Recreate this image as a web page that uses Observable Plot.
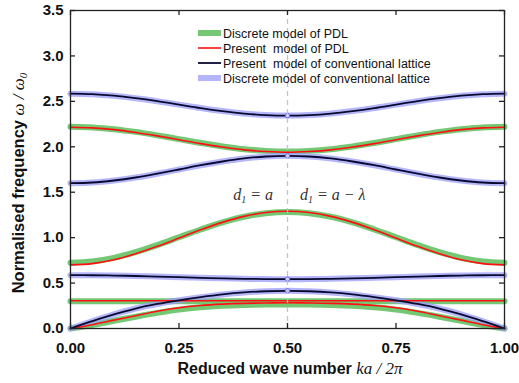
<!DOCTYPE html>
<html><head><meta charset="utf-8">
<script src="https://cdn.jsdelivr.net/npm/d3@7"></script>
<script src="https://cdn.jsdelivr.net/npm/@observablehq/plot@0.6"></script>
<style>
body{margin:0;background:#fff}
svg{font-family:"Liberation Sans",Arial,sans-serif}
</style>
</head><body><div id="chart"></div>
<script>
// Reduced wave number ka/2π
const k = [0,0.05,0.1,0.15,0.2,0.25,0.3,0.35,0.4,0.45,0.5,0.55,0.6,0.65,0.7,0.75,0.8,0.85,0.9,0.95,1];

// Present model of PDL (red)
const pdlPresent1 = [0,0.042,0.092,0.14,0.19,0.228,0.253,0.268,0.277,0.281,0.283,0.281,0.277,0.268,0.253,0.228,0.19,0.14,0.092,0.042,0];
const pdlPresent2 = [0.305,0.305,0.305,0.305,0.305,0.305,0.305,0.305,0.305,0.305,0.305,0.305,0.305,0.305,0.305,0.305,0.305,0.305,0.305,0.305,0.305];
const pdlPresent3 = [0.700,0.714,0.756,0.822,0.904,0.995,1.086,1.168,1.234,1.276,1.290,1.276,1.234,1.168,1.086,0.995,0.904,0.822,0.756,0.714,0.700];
const pdlPresent4 = [2.215,2.208,2.189,2.158,2.120,2.078,2.035,1.997,1.966,1.948,1.940,1.948,1.966,1.997,2.035,2.078,2.120,2.158,2.189,2.208,2.215];

// Discrete model of PDL (green)
const pdlDiscrete1 = [0,0.038,0.085,0.13,0.172,0.208,0.233,0.249,0.258,0.263,0.265,0.263,0.258,0.249,0.233,0.208,0.172,0.13,0.085,0.038,0];
const pdlDiscrete2 = [0.300,0.300,0.300,0.300,0.300,0.300,0.300,0.300,0.300,0.300,0.300,0.300,0.300,0.300,0.300,0.300,0.300,0.300,0.300,0.300,0.300];
const pdlDiscrete3 = [0.725,0.739,0.778,0.840,0.918,1.004,1.090,1.168,1.230,1.269,1.283,1.269,1.230,1.168,1.090,1.004,0.918,0.840,0.778,0.739,0.725];
const pdlDiscrete4 = [2.220,2.213,2.194,2.164,2.126,2.084,2.042,2.004,1.974,1.955,1.948,1.955,1.974,2.004,2.042,2.084,2.126,2.164,2.194,2.213,2.220];

// Present / discrete model of conventional lattice (black / blue)
const conv1 = [0,0.08,0.155,0.22,0.27,0.31,0.345,0.375,0.397,0.41,0.415,0.41,0.397,0.375,0.345,0.31,0.27,0.22,0.155,0.08,0];
const conv2 = [0.587,0.586,0.583,0.578,0.572,0.565,0.558,0.552,0.547,0.544,0.543,0.544,0.547,0.552,0.558,0.565,0.572,0.578,0.583,0.586,0.587];
const conv3 = [1.600,1.607,1.629,1.662,1.704,1.750,1.797,1.838,1.872,1.893,1.900,1.893,1.872,1.838,1.797,1.750,1.704,1.662,1.629,1.607,1.600];
const conv4 = [2.585,2.579,2.562,2.535,2.502,2.464,2.426,2.393,2.366,2.349,2.343,2.349,2.366,2.393,2.426,2.464,2.502,2.535,2.562,2.579,2.585];

// Discrete points at the zone centre
const dotK = [0.5,0.5,0.5,0.5];
const dotW = [0.415,0.543,1.900,2.343];

const xTicks = [0,0.25,0.5,0.75,1];
const yTicks = [0,0.5,1,1.5,2,2.5,3,3.5];

const legendLabels = ["Discrete model of PDL","Present  model of PDL","Present  model of conventional lattice","Discrete model of conventional lattice"];

const W=519,H=383,mL=70,mR=15,mT=10,mB=55,tickLen=5;
const innerW=W-mL-mR, innerH=H-mT-mB;
const green="#74c874", blue="#9c9cf8", red="#ff1010", dark="#0a0a30";

const rows = ys => k.map((x,i)=>({k:x,w:ys[i]}));
const thick = (ys,color,op) => Plot.line(rows(ys),{x:"k",y:"w",stroke:color,strokeWidth:6,strokeOpacity:op,curve:"catmull-rom"});
const thin = (ys,color,sw) => Plot.line(rows(ys),{x:"k",y:"w",stroke:color,strokeWidth:sw,curve:"catmull-rom"});

const plot = Plot.plot({
  width:W,height:H,marginLeft:mL,marginRight:mR,marginTop:mT,marginBottom:mB,
  x:{domain:[0,1]}, y:{domain:[0,3.5]},
  style:{fontFamily:'"Liberation Sans",Arial,sans-serif',fontSize:"15px",fontWeight:"bold",color:"#111",background:"#fff"},
  marks:[
    ...[pdlDiscrete1,pdlDiscrete2,pdlDiscrete3,pdlDiscrete4].map(s=>thick(s,green,1)),
    ...[conv1,conv2,conv3,conv4].map(s=>thick(s,blue,0.75)),
    ...[pdlPresent1,pdlPresent2,pdlPresent3,pdlPresent4].map(s=>thin(s,red,1.6)),
    ...[conv1,conv2,conv3,conv4].map(s=>thin(s,dark,1.8)),
    Plot.dot(dotK.map((x,i)=>({k:x,w:dotW[i]})),{x:"k",y:"w",r:2.2,stroke:"#6a6ae8",fill:"#d0d0ff",strokeWidth:1}),
    Plot.ruleX([0.5],{stroke:"#c4c4c4",strokeDasharray:"5,4",strokeWidth:1.3}),
    Plot.tickX(xTicks,{x:d=>d,insetTop:innerH-tickLen,stroke:"#222",strokeWidth:1.3}),
    Plot.tickX(xTicks,{x:d=>d,insetBottom:innerH-tickLen,stroke:"#222",strokeWidth:1.3}),
    Plot.tickY(yTicks,{y:d=>d,insetRight:innerW-tickLen,stroke:"#222",strokeWidth:1.3}),
    Plot.tickY(yTicks,{y:d=>d,insetLeft:innerW-tickLen,stroke:"#222",strokeWidth:1.3}),
    Plot.frame({stroke:"#222",strokeWidth:1.3}),
    Plot.axisX({ticks:xTicks,tickFormat:d3.format(".2f"),tickSize:0,tickPadding:14,label:null}),
    Plot.axisY({ticks:yTicks,tickFormat:d3.format(".1f"),tickSize:0,tickPadding:7,label:null})
  ]
});
document.getElementById("chart").appendChild(plot);

const svg = d3.select(plot);
const xs = plot.scale("x"), ys = plot.scale("y");
const serif = '"Liberation Serif","Times New Roman",serif';

// axis titles
const xt = svg.append("text").attr("x",(mL+W-mR)/2+3).attr("y",374).attr("text-anchor","middle").attr("fill","#111");
xt.append("tspan").attr("font-size",16).attr("font-weight","bold").style("white-space","pre").text("Reduced wave number ");
xt.append("tspan").attr("font-family",serif).attr("font-style","italic").attr("font-weight","normal").attr("font-size",17).style("white-space","pre").text("ka / 2π");

const yt = svg.append("text").attr("transform",`translate(24,${(mT+H-mB)/2+14}) rotate(-90)`).attr("text-anchor","middle").attr("fill","#111");
yt.append("tspan").attr("font-size",16.5).attr("font-weight","bold").style("white-space","pre").text("Normalised frequency ");
yt.append("tspan").attr("font-family",serif).attr("font-style","italic").attr("font-weight","normal").attr("font-size",17).style("white-space","pre").text("ω / ω");
yt.append("tspan").attr("font-family",serif).attr("font-style","italic").attr("font-weight","normal").attr("font-size",11).attr("dy",3).text("0");

// annotations
function note(x, anchor, parts){
  const t = svg.append("text").attr("x",x).attr("y",ys.apply(1.41)).attr("text-anchor",anchor)
    .attr("font-family",serif).attr("font-style","italic").attr("font-weight","normal").attr("font-size",16).attr("fill","#333").style("white-space","pre");
  t.append("tspan").text("d");
  t.append("tspan").attr("font-size",10).attr("dy",3).text("1");
  t.append("tspan").attr("dy",-3).text(parts);
}
note(xs.apply(0.5)-14,"end"," = a");
note(xs.apply(0.5)+13,"start"," = a − λ");

// legend
const lg = svg.append("g").attr("font-size",12.5).attr("font-weight","normal").attr("fill","#111").attr("text-anchor","start");
const lstyles = [{c:green,w:6},{c:red,w:1.6},{c:dark,w:1.8},{c:blue,w:6}];
legendLabels.forEach((lab,i)=>{
  const y = 33 + i*15;
  lg.append("line").attr("x1",198).attr("x2",221).attr("y1",y).attr("y2",y).attr("stroke",lstyles[i].c).attr("stroke-width",lstyles[i].w).attr("stroke-opacity",i===3?0.75:1);
  lg.append("text").attr("x",223).attr("y",y+4.5).attr("text-anchor","start").style("white-space","pre").text(lab);
});
</script>
</body></html>
